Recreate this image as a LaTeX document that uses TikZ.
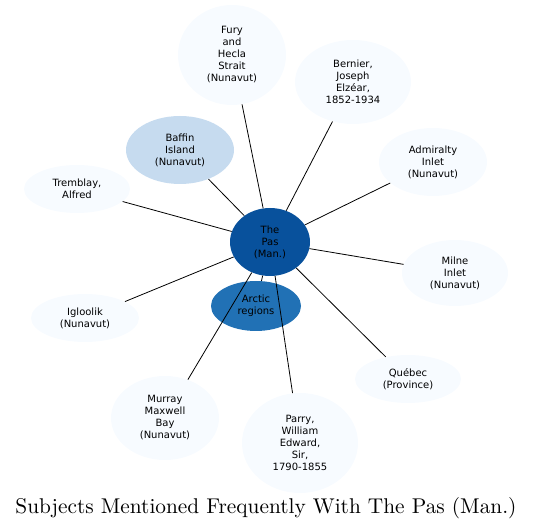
\documentclass[tikz,border=0pt]{standalone}
\usepackage{fontspec}
\usetikzlibrary{shapes.geometric}
\newfontfamily\labelfont{DejaVu Sans}
\newfontfamily\titlefont{lmroman10-regular.otf}
\definecolor{paleBlue}{HTML}{F7FBFF}
\definecolor{lightBlue}{HTML}{C6DBEF}
\definecolor{midBlue}{HTML}{2171B5}
\definecolor{deepBlue}{HTML}{08519C}
\tikzset{
    subject/.style={ellipse,draw=none,fill=paleBlue,inner sep=0pt,align=center,
        font=\labelfont\fontsize{7.5}{9}\selectfont},
    subjectlight/.style={subject,fill=lightBlue},
    subjectmid/.style={subject,fill=midBlue},
    subjectmain/.style={subject,fill=deepBlue},
    link/.style={draw=black,line width=0.6pt}
}
\begin{document}
\begin{tikzpicture}[x=0.75pt,y=-0.75pt]
        \useasboundingbox (0,0) rectangle (533,530);
        \node[subjectmain,minimum width=60pt,minimum height=51pt] (pas) at (270,242) {The\\Pas\\(Man.)};
        \node[subjectmid,minimum width=67.5pt,minimum height=37.5pt] (arctic) at (256,306) {Arctic\\regions};
        \node[subjectlight,minimum width=81pt,minimum height=51pt] (baffin) at (180,150) {Baffin\\Island\\(Nunavut)};
        \node[subject,minimum width=81pt,minimum height=75pt] (fury) at (232,55) {Fury\\and\\Hecla\\Strait\\(Nunavut)};
        \node[subject,minimum width=87pt,minimum height=63pt] (bernier) at (353,82) {Bernier,\\Joseph\\Elzéar,\\1852-1934};
        \node[subject,minimum width=81pt,minimum height=51pt] (admiralty) at (433,162) {Admiralty\\Inlet\\(Nunavut)};
        \node[subject,minimum width=79.5pt,minimum height=49.5pt] (milne) at (455,273) {Milne\\Inlet\\(Nunavut)};
        \node[subject,minimum width=79.5pt,minimum height=36pt] (quebec) at (408,379) {Québec\\(Province)};
        \node[subject,minimum width=87pt,minimum height=75pt] (parry) at (300,443) {Parry,\\William\\Edward,\\Sir,\\1790-1855};
        \node[subject,minimum width=81pt,minimum height=63pt] (murray) at (165,418) {Murray\\Maxwell\\Bay\\(Nunavut)};
        \node[subject,minimum width=81pt,minimum height=36pt] (igloolik) at (85,318) {Igloolik\\(Nunavut)};
        \node[subject,minimum width=79.5pt,minimum height=36pt] (tremblay) at (77,189) {Tremblay,\\Alfred};
        \foreach \target in {arctic,baffin,fury,bernier,admiralty,milne,quebec,parry,murray,igloolik,tremblay} {
            \draw[link] (pas) -- (\target);
        }
        \node[font=\titlefont\fontsize{16}{19}\selectfont] (title) at (266,508) {Subjects Mentioned Frequently With The Pas (Man.)};
    \end{tikzpicture}
\end{document}
